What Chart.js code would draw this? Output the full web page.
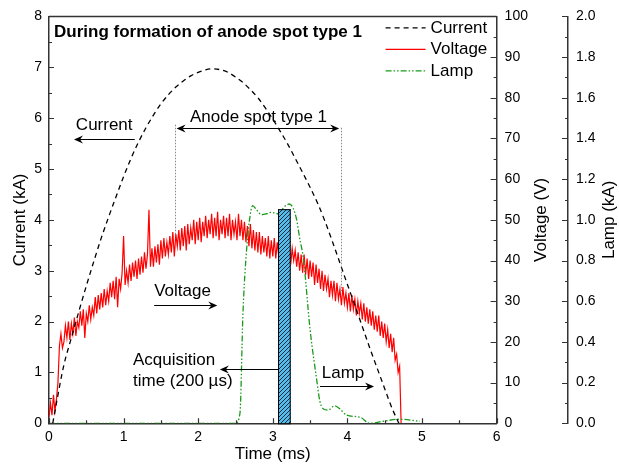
<!DOCTYPE html>
<html>
<head>
<meta charset="utf-8">
<script src="https://cdn.jsdelivr.net/npm/chart.js@4.4.1/dist/chart.umd.min.js"></script>
<style>
  body { margin: 0; background: #fff; }
  #wrap { width: 619px; height: 465px; }
</style>
</head>
<body>
<div id="wrap"><canvas id="spot_chart" width="619" height="465"></canvas></div>
<script>
// arc current (kA)
const currentTime = [0.05, 0.10, 0.20, 0.30, 0.40, 0.50, 0.60, 0.70, 0.80, 0.90, 1.00, 1.10, 1.20, 1.30, 1.40, 1.50, 1.60, 1.70, 1.80, 1.90,
  2.00, 2.10, 2.20, 2.30, 2.40, 2.50, 2.60, 2.70, 2.80, 2.90, 3.00, 3.10, 3.20, 3.30, 3.40, 3.50, 3.60, 3.70, 3.80, 3.90,
  4.00, 4.10, 4.20, 4.30, 4.40, 4.50, 4.60, 4.69];
const currentKA = [0, 0.40, 1.15, 1.68, 2.20, 2.70, 3.18, 3.64, 4.06, 4.46, 4.85, 5.21, 5.53, 5.81, 6.06, 6.28, 6.46, 6.61, 6.73, 6.83,
  6.90, 6.95, 6.97, 6.95, 6.90, 6.81, 6.70, 6.56, 6.40, 6.20, 5.98, 5.74, 5.49, 5.21, 4.93, 4.64, 4.33, 3.97, 3.57, 3.15,
  2.73, 2.32, 1.90, 1.48, 1.08, 0.68, 0.29, 0];

// arc voltage (V), one reading every 0.02 ms from t = 0
const voltStep = 0.02;
const voltageV = [
  1.5, 5, 2, 7, 3, 6, 10, 19, 22, 18.5,
  20, 24, 21, 25, 20.5, 24.5, 22, 26, 21.5, 25,
  23.5, 27.5, 24, 28, 21, 27, 25, 29, 25.5, 28.5,
  26.5, 31, 27, 31.5, 28, 32, 28.5, 33, 29, 32.5,
  30, 34.5, 31, 35, 30.5, 36, 28.5, 35.5, 33, 37,
  46, 34, 37.5, 34.5, 39, 35, 39.5, 36, 40, 35.5,
  40.5, 36.5, 41, 37, 42, 38, 41.5, 52.5, 38.5, 43,
  38.5, 43.5, 39.5, 44, 39, 45, 40.5, 45.5, 41, 44.5,
  41.5, 46, 42, 47, 41, 46.5, 43.5, 47.5, 42.5, 48,
  43.5, 48.5, 42.5, 49, 44, 48, 45, 50, 44, 49.5,
  45, 50.5, 44.5, 49.5, 46, 51, 45.5, 50, 46.5, 51.5,
  45.5, 50.5, 46, 52, 45, 50, 46.5, 51, 45.5, 50.5,
  46, 51.5, 45, 50, 46.5, 49.5, 45, 51.5, 46, 50,
  45, 49.5, 44.5, 48.5, 43.5, 49, 43, 47.5, 42.5, 47,
  42, 47, 41.5, 46, 42, 45.5, 41, 46, 40.5, 45,
  41, 45.5, 40.5, 44.5, 41, 44, 40, 45, 40.5, 44,
  39.5, 44, 39, 43, 40, 42.5, 38.5, 42, 37.5, 41.5,
  37, 41.5, 36.5, 40.5, 35.5, 40, 36, 39.5, 34, 39,
  34.5, 38, 33, 37.5, 32.5, 36.5, 33, 35.5, 31, 35,
  31.5, 35, 30, 34.5, 30.5, 33, 29, 33.5, 29.5, 32,
  28.5, 32, 27.5, 31.5, 28, 30.5, 26.5, 30, 27, 29.5,
  25.5, 29.5, 25, 28.5, 24.5, 28, 24, 27.5, 23, 26.5,
  22.5, 26.5, 21.5, 25, 21, 24.5, 20, 23, 18.5, 22,
  17.5, 21, 15.5, 17, 12.5, 14, 0
];

// lamp current (kA)
const lampTime = [0, 2.50, 2.56, 2.60, 2.65, 2.70, 2.73, 2.78, 2.85, 2.92, 2.98, 3.07, 3.16, 3.22, 3.27, 3.32, 3.36, 3.41,
  3.50, 3.59, 3.63, 3.68, 3.74, 3.83, 3.90, 3.99, 4.17, 4.30, 4.48, 4.70, 4.97];
const lampKA = [0, 0, 0.05, 0.54, 0.86, 1.03, 1.07, 1.05, 1.025, 1.03, 1.037, 1.03, 1.066, 1.078, 1.06, 1.0, 0.91, 0.81,
  0.46, 0.21, 0.11, 0.07, 0.065, 0.086, 0.07, 0.04, 0.03, 0.0, 0.01, 0.02, 0.01];

// acquisition window (ms) and its bar height (kA)
const acqWindow = [3.07, 3.24];
const acqTop = 4.21;
// anode spot type 1 interval (ms)
const spotWindow = [1.69, 3.91];

const FONT = '"Liberation Sans", Arial, sans-serif';
const axisColor = "#333";
const tickFont = { family: FONT, size: 14 };
const titleFont = { family: FONT, size: 17 };

const currentPts = currentTime.map((t, i) => ({ x: t, y: currentKA[i] }));
const voltagePts = voltageV.map((v, i) => ({ x: i * voltStep, y: v }));
const lampPts = lampTime.map((t, i) => ({ x: t, y: lampKA[i] }));

// text notes and arrows, in data units (ms, kA)
const notes = [
  { lines: ["Current"], t: 0.36, kA: 5.86, from: 1.15, to: 0.335, at: 5.59 },
  { lines: ["Anode spot type 1"], t: 1.89, kA: 6.01 },
  { lines: ["Voltage"], t: 1.41, kA: 2.60, from: 1.41, to: 2.256, at: 2.33 },
  { lines: ["Acquisition", "time (200 \u00b5s)"], t: 1.126, kA: 1.24, from: acqWindow[0], to: 2.29, at: 1.074 },
  { lines: ["Lamp"], t: 3.656, kA: 0.99, from: 3.633, to: 4.357, at: 0.734 }
];

function makeHatch() {
  const c = document.createElement("canvas");
  c.width = 4; c.height = 4;
  const g = c.getContext("2d");
  g.fillStyle = "#55bdec";
  g.fillRect(0, 0, 4, 4);
  g.strokeStyle = "#1c2f45";
  g.lineWidth = 1;
  g.beginPath();
  g.moveTo(0, 4); g.lineTo(4, 0);
  g.moveTo(-1, 1); g.lineTo(1, -1);
  g.moveTo(3, 5); g.lineTo(5, 3);
  g.stroke();
  return c;
}

function head(ctx, x, y, dir) {
  ctx.beginPath();
  ctx.moveTo(x, y);
  ctx.lineTo(x - dir * 9, y - 4);
  ctx.lineTo(x - dir * 6, y);
  ctx.lineTo(x - dir * 9, y + 4);
  ctx.closePath();
  ctx.fill();
}

function hline(ctx, x0, x1, y) {
  ctx.beginPath();
  ctx.moveTo(x0, y);
  ctx.lineTo(x1, y);
  ctx.stroke();
}

const decor = {
  id: "decor",
  afterDatasetsDraw(chart) {
    const ctx = chart.ctx;
    const xs = chart.scales.x, ys = chart.scales.y;
    // hatched acquisition bar
    const x0 = xs.getPixelForValue(acqWindow[0]), x1 = xs.getPixelForValue(acqWindow[1]);
    const yt = ys.getPixelForValue(acqTop), yb = ys.getPixelForValue(0);
    ctx.save();
    ctx.fillStyle = ctx.createPattern(makeHatch(), "repeat");
    ctx.fillRect(x0, yt, x1 - x0, yb - yt);
    ctx.strokeStyle = "#000";
    ctx.lineWidth = 1;
    ctx.strokeRect(x0 + 0.5, yt + 0.5, x1 - x0 - 1, yb - yt);
    ctx.restore();
  },
  afterDraw(chart) {
    const ctx = chart.ctx;
    const ca = chart.chartArea;
    const xs = chart.scales.x, ys = chart.scales.y, y1 = chart.scales.y1, y2 = chart.scales.y2;
    ctx.save();

    // tick marks pointing inward
    ctx.strokeStyle = axisColor;
    ctx.lineWidth = 1.2;
    ctx.beginPath();
    xs.ticks.forEach((tk, i) => {
      const p = Math.round(xs.getPixelForTick(i)) + 0.5;
      ctx.moveTo(p, ca.bottom);
      ctx.lineTo(p, ca.bottom - (tk.label !== "" ? 5 : 3));
    });
    ys.ticks.forEach((tk, i) => {
      const p = Math.round(ys.getPixelForTick(i)) + 0.5;
      ctx.moveTo(ca.left, p);
      ctx.lineTo(ca.left + (tk.label !== "" ? 5 : 3), p);
    });
    [y1, y2].forEach(s => {
      s.ticks.forEach((tk, i) => {
        const p = Math.round(s.getPixelForTick(i)) + 0.5;
        ctx.moveTo(s.left, p);
        ctx.lineTo(s.left - (tk.label !== "" ? 6 : 3), p);
      });
    });
    ctx.stroke();

    // top frame line
    ctx.lineWidth = 1.5;
    hline(ctx, ca.left, ca.right, ca.top);

    // right axis titles, reading upward
    ctx.fillStyle = "#000";
    ctx.font = "17px " + FONT;
    ctx.textAlign = "center";
    ctx.textBaseline = "middle";
    const midY = (ca.top + ca.bottom) / 2;
    [[y1, 27, "Voltage (V)"], [y2, 10, "Lamp (kA)"]].forEach(([s, off, txt]) => {
      ctx.save();
      ctx.translate(s.right - off, midY);
      ctx.rotate(-Math.PI / 2);
      ctx.fillText(txt, 0, 0);
      ctx.restore();
    });

    // title inside the frame
    ctx.textAlign = "left";
    ctx.font = "bold 17px " + FONT;
    ctx.fillText("During formation of anode spot type 1", ca.left + 5, ca.top + 15.5);

    // legend
    ctx.font = "17px " + FONT;
    const lx = ca.right - 111;
    chart.data.datasets.forEach((ds, i) => {
      const y = ca.top + 11.5 + i * 21.5;
      ctx.save();
      ctx.strokeStyle = ds.borderColor;
      ctx.lineWidth = 1.3;
      ctx.setLineDash(ds.borderDash || []);
      hline(ctx, lx, lx + 40, y);
      ctx.restore();
      ctx.fillText(ds.label, lx + 45, y);
    });

    // dotted markers of the anode spot interval
    ctx.save();
    ctx.strokeStyle = "#888";
    ctx.lineWidth = 1;
    ctx.setLineDash([1.5, 1.5]);
    [[spotWindow[0], 5.87, 3.72], [spotWindow[1], 5.81, 2.60]].forEach(([t, a, b]) => {
      const p = Math.round(xs.getPixelForValue(t)) + 0.5;
      ctx.beginPath();
      ctx.moveTo(p, ys.getPixelForValue(a));
      ctx.lineTo(p, ys.getPixelForValue(b));
      ctx.stroke();
    });
    ctx.restore();

    // double arrow of the spot interval
    ctx.fillStyle = "#000";
    ctx.strokeStyle = "#000";
    ctx.lineWidth = 1;
    const sy = Math.round(ys.getPixelForValue(5.81)) + 0.5;
    const sa = xs.getPixelForValue(spotWindow[0]) + 1.5, sb = xs.getPixelForValue(spotWindow[1]) - 1.5;
    hline(ctx, sa + 6, sb - 6, sy);
    head(ctx, sa, sy, -1);
    head(ctx, sb, sy, 1);

    // text notes with their arrows
    notes.forEach(n => {
      const tx = xs.getPixelForValue(n.t);
      const ty = ys.getPixelForValue(n.kA);
      n.lines.forEach((ln, k) => ctx.fillText(ln, tx, ty + k * 21));
      if (n.from !== undefined) {
        const a = xs.getPixelForValue(n.from), b = xs.getPixelForValue(n.to);
        const y = Math.round(ys.getPixelForValue(n.at)) + 0.5;
        const dir = b > a ? 1 : -1;
        hline(ctx, a, b - dir * 6, y);
        head(ctx, b, y, dir);
      }
    });
    ctx.restore();
  }
};

const chart = new Chart(document.getElementById("spot_chart").getContext("2d"), {
  type: "line",
  data: {
    datasets: [
      {
        label: "Current",
        data: currentPts,
        yAxisID: "y",
        borderColor: "#000",
        borderWidth: 1.3,
        borderDash: [5, 4],
        cubicInterpolationMode: "monotone",
        pointRadius: 0,
        fill: false,
        order: 0
      },
      {
        label: "Voltage",
        data: voltagePts,
        yAxisID: "y1",
        borderColor: "#ff0000",
        borderWidth: 1.2,
        tension: 0,
        pointRadius: 0,
        fill: false,
        order: 2
      },
      {
        label: "Lamp",
        data: lampPts,
        yAxisID: "y2",
        borderColor: "#1a9a1a",
        borderWidth: 1.3,
        borderDash: [6, 2, 1.5, 2, 1.5, 2],
        cubicInterpolationMode: "monotone",
        pointRadius: 0,
        fill: false,
        order: 1
      }
    ]
  },
  options: {
    responsive: false,
    animation: false,
    devicePixelRatio: 1,
    layout: { padding: { top: 13.7, right: 0, bottom: 0, left: 0 } },
    plugins: { legend: { display: false }, tooltip: { enabled: false } },
    scales: {
      x: {
        type: "linear",
        min: 0,
        max: 6,
        afterFit: s => { s.height = 41.7; },
        grid: { display: false, drawTicks: false },
        border: { display: true, color: axisColor, width: 1.5 },
        ticks: {
          stepSize: 0.5, autoSkip: false, maxRotation: 0, padding: 5, color: "#000", font: tickFont,
          callback: v => Number.isInteger(v) ? v : ""
        },
        title: { display: true, text: "Time (ms)", color: "#000", font: titleFont, padding: { top: 0, bottom: 0 } }
      },
      y: {
        position: "left",
        min: 0,
        max: 8,
        afterFit: s => { s.width = 49; },
        grid: { display: false, drawTicks: false },
        border: { display: true, color: axisColor, width: 1.5 },
        ticks: {
          stepSize: 0.5, autoSkip: false, padding: 7, color: "#000", font: tickFont,
          callback: v => Number.isInteger(v) ? v : ""
        },
        title: { display: true, text: "Current (kA)", color: "#000", font: titleFont, padding: { top: 10, bottom: 0 } }
      },
      y1: {
        position: "right",
        min: 0,
        max: 100,
        afterFit: s => { s.width = 71.4; },
        grid: { display: false, drawTicks: false },
        border: { display: true, color: axisColor, width: 1.5 },
        ticks: {
          stepSize: 5, autoSkip: false, padding: 8, color: "#000", font: tickFont,
          callback: v => v % 10 === 0 ? v : ""
        },
        title: { display: false }
      },
      y2: {
        position: "right",
        min: 0,
        max: 2,
        afterFit: s => { s.width = 51; },
        grid: { display: false, drawTicks: false },
        border: { display: true, color: axisColor, width: 1.5 },
        ticks: {
          stepSize: 0.1, autoSkip: false, padding: 8, color: "#000", font: tickFont,
          callback: v => Math.round(v * 10) % 2 === 0 ? v.toFixed(1) : ""
        },
        title: { display: false }
      }
    }
  },
  plugins: [decor]
});
</script>
</body>
</html>
